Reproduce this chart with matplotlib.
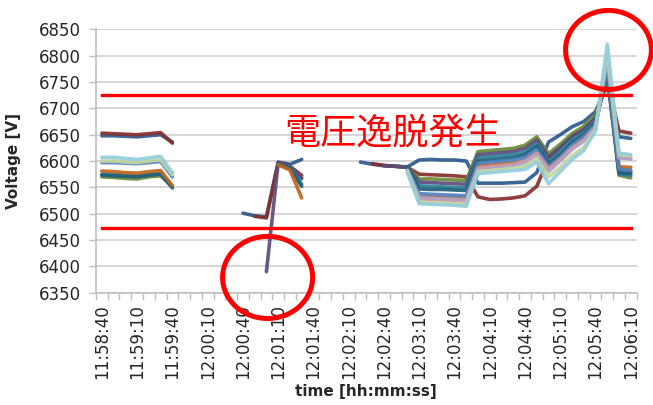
import numpy as np
import matplotlib
matplotlib.use("Agg")
import matplotlib.pyplot as plt
from matplotlib.patches import Ellipse

plt.rcParams['font.family'] = ['DejaVu Sans']

N = np.nan

# 10-second samples, 11:58:40 .. 12:06:10
times = ["11:58:40", "11:58:50", "11:59:00", "11:59:10", "11:59:20", "11:59:30",
         "11:59:40", "11:59:50", "12:00:00", "12:00:10", "12:00:20", "12:00:30",
         "12:00:40", "12:00:50", "12:01:00", "12:01:10", "12:01:20", "12:01:30",
         "12:01:40", "12:01:50", "12:02:00", "12:02:10", "12:02:20", "12:02:30",
         "12:02:40", "12:02:50", "12:03:00", "12:03:10", "12:03:20", "12:03:30",
         "12:03:40", "12:03:50", "12:04:00", "12:04:10", "12:04:20", "12:04:30",
         "12:04:40", "12:04:50", "12:05:00", "12:05:10", "12:05:20", "12:05:30",
         "12:05:40", "12:05:50", "12:06:00", "12:06:10"]

# Measured voltages per measuring point [V] (NaN = no record)
v_blue = [6648, 6648, 6647, 6646, 6648, 6650, 6636, N, N, N, N, N,
          6501, 6496, 6494, 6598, 6594, 6603, N, N, N, N,
          6598, 6594, 6591, 6590, 6589, 6602, 6603, 6602, 6602, 6600,
          6558, 6558, 6558, 6559, 6560, 6578, 6636, 6650, 6665, 6675, 6694, 6745, 6646, 6643]
v_darkred = [6653, 6652, 6651, 6650, 6652, 6654, 6634, N, N, N, N, N,
             N, 6495, 6492, 6597, 6590, 6573, N, N, N, N,
             N, 6595, 6592, 6590, 6588, 6575, 6574, 6573, 6572, 6570,
             6532, 6527, 6528, 6530, 6534, 6552, 6605, 6625, 6648, 6660, 6680, 6755, 6657, 6653]
v_purple = [N, N, N, N, N, N, N, N, N, N, N, N,
            N, N, 6390, 6596, 6590, 6568, N, N, N, N,
            N, N, 6591, 6590, 6588, 6560, 6559, 6558, 6557, 6556,
            6612, 6614, 6616, 6618, 6624, 6640, 6608, 6626, 6646, 6660, 6682, 6765, 6582, 6580]
v_green = [6570, 6569, 6567, 6566, 6570, 6572, 6552, N, N, N, N, N,
           N, N, N, 6595, 6588, 6566, N, N, N, N,
           N, N, N, 6590, 6588, 6566, 6566, 6565, 6564, 6563,
           6618, 6620, 6622, 6624, 6630, 6646, 6614, 6632, 6652, 6666, 6688, 6760, 6573, 6568]
v_teal = [6575, 6575, 6573, 6572, 6575, 6577, 6551, N, N, N, N, N,
          N, N, N, 6594, 6587, 6556, N, N, N, N,
          N, N, N, N, 6588, 6553, 6552, 6551, 6550, 6549,
          6606, 6608, 6610, 6612, 6617, 6633, 6598, 6618, 6640, 6654, 6676, 6770, 6575, 6573]
v_darkteal = [6573, 6572, 6571, 6570, 6573, 6575, 6549, N, N, N, N, N,
              N, N, N, 6594, 6586, 6552, N, N, N, N,
              N, N, N, N, 6588, 6547, 6546, 6546, 6545, 6544,
              6600, 6602, 6604, 6606, 6612, 6628, 6594, 6612, 6635, 6650, 6672, 6768, 6578, 6576]
v_orange = [6581, 6580, 6578, 6577, 6580, 6582, 6553, N, N, N, N, N,
            N, N, N, 6593, 6583, 6530, N, N, N, N,
            N, N, N, N, 6580, 6532, 6531, 6530, 6529, 6528,
            6590, 6592, 6594, 6596, 6601, 6616, 6586, 6604, 6627, 6642, 6667, 6785, 6589, 6588]
v_midblue = [6597, 6597, 6596, 6595, 6597, 6599, 6570, N, N, N, N, N,
             N, N, N, N, N, N, N, N, N, N,
             N, N, N, N, 6584, 6538, 6537, 6536, 6535, 6534,
             6596, 6598, 6600, 6602, 6607, 6622, 6590, 6608, 6630, 6646, 6670, 6775, 6584, 6582]
v_pink = [N, N, N, N, N, N, N, N, N, N, N, N,
          N, N, N, N, N, N, N, N, N, N,
          N, N, N, N, 6582, 6528, 6527, 6526, 6525, 6524,
          6587, 6589, 6591, 6594, 6600, 6615, 6585, 6603, 6625, 6640, 6665, 6800, 6608, 6605]
v_lavender = [N, N, N, N, N, N, N, N, N, N, N, N,
              N, N, N, N, N, N, N, N, N, N,
              N, N, N, N, 6582, 6530, 6529, 6528, 6527, 6526,
              6584, 6586, 6588, 6591, 6597, 6612, 6580, 6600, 6622, 6638, 6663, 6795, 6606, 6604]
v_lightgreen = [6600, 6600, 6598, 6597, 6600, 6602, 6574, N, N, N, N, N,
                N, N, N, N, N, N, N, N, N, N,
                N, N, N, N, 6580, 6522, 6521, 6520, 6519, 6518,
                6580, 6582, 6584, 6586, 6590, 6605, 6570, 6588, 6610, 6626, 6660, 6810, 6612, 6610]
v_lightblue = [6607, 6607, 6605, 6603, 6606, 6609, 6578, N, N, N, N, N,
               N, N, N, N, N, N, N, N, N, N,
               N, N, N, N, 6578, 6519, 6518, 6517, 6516, 6514,
               6576, 6578, 6580, 6582, 6584, 6598, 6557, 6580, 6603, 6620, 6657, 6822, 6615, 6612]

upper_limit = 6725
lower_limit = 6472

series = [
    (v_blue, "#2C5A8C"),
    (v_darkred, "#862F2D"),
    (v_green, "#6A8A35"),
    (v_purple, "#5C4A7E"),
    (v_teal, "#2B8196"),
    (v_darkteal, "#1F5F7A"),
    (v_orange, "#C0651E"),
    (v_midblue, "#4F81BD"),
    (v_pink, "#D99694"),
    (v_lavender, "#B3A2C7"),
    (v_lightgreen, "#C3D69B"),
    (v_lightblue, "#93CDDD"),
]

fig = plt.figure(figsize=(6.53, 4.05), dpi=100)
ax = fig.add_axes([0.147, 0.2773, 0.828, 0.6501])

x = np.arange(len(times))
for vals, col in series:
    ax.plot(x, np.array(vals, dtype=float), color=col, lw=2.6,
            solid_joinstyle="round", solid_capstyle="round", alpha=0.92, zorder=3)

ax.plot(x, np.full(len(times), upper_limit), color="#FF0000", lw=2.4, zorder=4)
ax.plot(x, np.full(len(times), lower_limit), color="#FF0000", lw=2.4, zorder=4)

ax.text(15.5, 6653, "電圧逸脱発生", color="#FF0000", fontsize=26,
        family=["Noto Sans CJK JP", "DejaVu Sans"], va="center", ha="left", zorder=5)

# Highlight circles around the deviations
ax.add_patch(Ellipse((14.1, 6379), 7.66, 156, fill=False, ec="#FF0000",
                     lw=3.6, clip_on=False, zorder=6))
ax.add_patch(Ellipse((43.1, 6811), 7.3, 150, fill=False, ec="#FF0000",
                     lw=3.6, clip_on=False, zorder=6))

ax.set_xlim(-0.5, len(times) - 0.5)
ax.set_ylim(6350, 6850)
ax.set_yticks(np.arange(6350, 6851, 50))
ax.grid(axis="y", color="#D0D0D0", lw=1.2, zorder=0)
ax.set_axisbelow(True)

ax.set_xticks(x[::3])
ax.set_xticklabels(times[::3], rotation=90)
ax.set_xticks(np.arange(-0.5, len(times), 1), minor=True)
ax.tick_params(axis="x", which="major", length=0, pad=8, labelsize=12, labelcolor="#262626")
ax.tick_params(axis="x", which="minor", length=5, color="#BFBFBF", width=1)
ax.tick_params(axis="y", length=5, color="#BFBFBF", width=1, pad=6,
               labelsize=12, labelcolor="#262626")

for s in ("top", "right"):
    ax.spines[s].set_visible(False)
for s in ("left", "bottom"):
    ax.spines[s].set_color("#BFBFBF")
    ax.spines[s].set_linewidth(1.2)

ax.set_ylabel("Voltage [V]", fontsize=11, fontweight="bold", color="#262626")
ax.yaxis.set_label_coords(-0.139, 0.5)
ax.set_xlabel("time [hh:mm:ss]", fontsize=11, fontweight="bold", color="#262626")
ax.xaxis.set_label_coords(0.5, -0.345)

fig.savefig("out.png", dpi=100)
